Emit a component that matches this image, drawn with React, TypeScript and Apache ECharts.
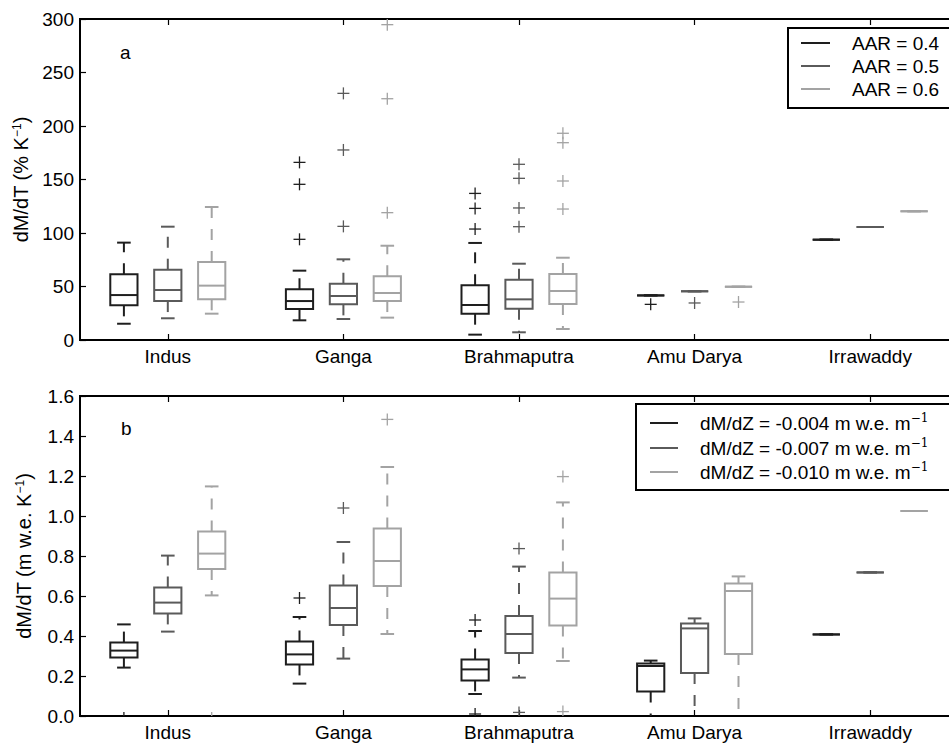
import React, { useEffect, useRef } from "react";
import * as echarts from "echarts";

const basins = ["Indus", "Ganga", "Brahmaputra", "Amu Darya", "Irrawaddy"];

// Panel a — [lower whisker, Q1, median, Q3, upper whisker] per basin (% K-1)
const aar04 = [
  [15.2, 32.4, 42.0, 61.4, 91.0],
  [18.4, 29.0, 36.4, 47.4, 64.8],
  [5.0, 24.6, 32.7, 51.1, 90.7],
  [41.7, 41.7, 41.7, 41.7, 41.7],
  [93.8, 93.8, 93.8, 93.8, 93.8],
];
const aar05 = [
  [20.3, 36.4, 46.7, 65.7, 105.9],
  [19.6, 33.3, 41.1, 52.6, 75.4],
  [7.2, 29.3, 38.0, 56.4, 71.3],
  [45.5, 45.5, 45.5, 45.5, 45.5],
  [105.6, 105.6, 105.6, 105.6, 105.6],
];
const aar06 = [
  [24.6, 38.0, 50.8, 72.9, 124.3],
  [20.9, 36.4, 43.9, 59.5, 88.1],
  [10.3, 33.6, 45.8, 61.7, 76.9],
  [49.8, 49.8, 49.8, 49.8, 49.8],
  [120.3, 120.3, 120.3, 120.3, 120.3],
];
const aar04Outliers = [[], [166, 145.5, 94.1], [137, 123, 103.7], [33.3], []];
const aar05Outliers = [[], [230.5, 177.6, 106.2], [164.2, 151.1, 123.4, 105.9], [34.6], []];
const aar06Outliers = [[], [294.7, 225.5, 119], [193.2, 184.4, 148.6, 122.4], [35.5], []];

// Panel b — [lower whisker, Q1, median, Q3, upper whisker] per basin (m w.e. K-1)
const dmdz004 = [
  [0.242, 0.292, 0.327, 0.367, 0.458],
  [0.162, 0.258, 0.308, 0.372, 0.495],
  [0.11, 0.178, 0.233, 0.283, 0.425],
  [-0.06, 0.122, 0.25, 0.262, 0.277],
  [0.408, 0.408, 0.408, 0.408, 0.408],
];
const dmdz007 = [
  [0.422, 0.513, 0.567, 0.643, 0.802],
  [0.287, 0.455, 0.54, 0.653, 0.87],
  [0.192, 0.315, 0.41, 0.5, 0.747],
  [-0.1, 0.215, 0.438, 0.462, 0.488],
  [0.718, 0.718, 0.718, 0.718, 0.718],
];
const dmdz010 = [
  [0.603, 0.735, 0.812, 0.922, 1.148],
  [0.41, 0.65, 0.775, 0.938, 1.245],
  [0.275, 0.452, 0.587, 0.717, 1.068],
  [-0.1, 0.31, 0.625, 0.662, 0.698],
  [1.025, 1.025, 1.025, 1.025, 1.025],
];
const dmdz004Outliers = [[-0.01], [0.59], [0.48, 0.01], [], []];
const dmdz007Outliers = [[], [1.04], [0.837, 0.018], [], []];
const dmdz010Outliers = [[-0.01], [1.483], [1.197, 0.022], [], []];

const topTicks = [0, 50, 100, 150, 200, 250, 300];
const bottomTicks = [0, 0.2, 0.4, 0.6, 0.8, 1.0, 1.2, 1.4, 1.6];

const legendA = ["AAR = 0.4", "AAR = 0.5", "AAR = 0.6"];
const legendB = [
  "dM/dZ = -0.004 m w.e. m",
  "dM/dZ = -0.007 m w.e. m",
  "dM/dZ = -0.010 m w.e. m",
];

const FONT = '"Liberation Sans", Arial, Helvetica, sans-serif';
const COLORS = ["#1e1e1e", "#5a5a5a", "#a3a3a3"];

function boxSeries(xIdx: number, yIdx: number, data: number[][], k: number, color: string) {
  return {
    type: "custom",
    xAxisIndex: xIdx,
    yAxisIndex: yIdx,
    clip: true,
    silent: true,
    data: data.map((d, i) => [i, ...d]),
    encode: { x: 0, y: [1, 2, 3, 4, 5] },
    renderItem: (_p: any, api: any) => {
      const cat = api.value(0);
      const band = api.size([1, 0])[0];
      const dx = (k * band) / 4;
      const hw = band * 0.0775;
      const cw = hw / 2;
      const lo = api.coord([cat, api.value(1)]);
      const q1 = api.coord([cat, api.value(2)]);
      const md = api.coord([cat, api.value(3)]);
      const q3 = api.coord([cat, api.value(4)]);
      const hi = api.coord([cat, api.value(5)]);
      const cx = lo[0] + dx;
      const st = { stroke: color, lineWidth: 2, fill: null };
      const dash = { stroke: color, lineWidth: 2, lineDash: [11, 11] };
      const children: any[] = [];
      if (hi[1] < q3[1]) {
        children.push({ type: "line", shape: { x1: cx, y1: q3[1], x2: cx, y2: hi[1] }, style: dash });
      }
      if (lo[1] > q1[1]) {
        children.push({ type: "line", shape: { x1: cx, y1: q1[1], x2: cx, y2: lo[1] }, style: dash });
      }
      children.push({ type: "line", shape: { x1: cx - cw, y1: hi[1], x2: cx + cw, y2: hi[1] }, style: st });
      children.push({ type: "line", shape: { x1: cx - cw, y1: lo[1], x2: cx + cw, y2: lo[1] }, style: st });
      children.push({
        type: "rect",
        shape: { x: cx - hw, y: q3[1], width: 2 * hw, height: q1[1] - q3[1] },
        style: { stroke: color, lineWidth: 2, fill: "none" },
      });
      children.push({ type: "line", shape: { x1: cx - hw, y1: md[1], x2: cx + hw, y2: md[1] }, style: st });
      return { type: "group", children };
    },
  };
}

function outlierSeries(xIdx: number, yIdx: number, data: number[][], k: number, color: string) {
  const flat: number[][] = [];
  data.forEach((vals, i) => vals.forEach((v) => flat.push([i, v])));
  return {
    type: "custom",
    xAxisIndex: xIdx,
    yAxisIndex: yIdx,
    clip: true,
    silent: true,
    data: flat,
    encode: { x: 0, y: 1 },
    renderItem: (_p: any, api: any) => {
      const band = api.size([1, 0])[0];
      const dx = (k * band) / 4;
      const pt = api.coord([api.value(0), api.value(1)]);
      const cx = pt[0] + dx;
      const s = 6;
      const st = { stroke: color, lineWidth: 1.3 };
      return {
        type: "group",
        children: [
          { type: "line", shape: { x1: cx - s, y1: pt[1], x2: cx + s, y2: pt[1] }, style: st },
          { type: "line", shape: { x1: cx, y1: pt[1] - s, x2: cx, y2: pt[1] + s }, style: st },
        ],
      };
    },
  };
}

function catAxis(gridIndex: number, position: string, showLabel: boolean) {
  return {
    type: "category",
    gridIndex,
    position,
    data: basins,
    boundaryGap: true,
    axisLine: { show: true, onZero: false, lineStyle: { color: "#000", width: 2 } },
    axisTick: { show: true, inside: true, alignWithLabel: true, length: 6, lineStyle: { color: "#000", width: 1.2 } },
    axisLabel: { show: showLabel, color: "#000", fontSize: 19, fontFamily: FONT, margin: 7 },
    splitLine: { show: false },
  };
}

function valAxis(gridIndex: number, ticks: number[], interval: number, name: string, nameGap: number, dec: number) {
  return {
    type: "value",
    gridIndex,
    min: ticks[0],
    max: ticks[ticks.length - 1],
    interval,
    axisLine: { show: true, lineStyle: { color: "#000", width: 2 } },
    axisTick: { show: true, inside: true, length: 6, lineStyle: { color: "#000", width: 1.2 } },
    splitLine: { show: false },
    axisLabel: {
      color: "#000",
      fontSize: 19,
      fontFamily: FONT,
      margin: 6,
      formatter: (v: number) => v.toFixed(dec),
    },
    name,
    nameLocation: "middle",
    nameRotate: 90,
    nameGap,
    nameTextStyle: {
      fontSize: 20,
      fontFamily: FONT,
      color: "#000",
      rich: {
        a: { fontSize: 20, fontFamily: FONT, color: "#000" },
        s: { fontSize: 12, fontFamily: FONT, color: "#000", verticalAlign: "top" },
      },
    },
  };
}

function legendGraphic(x: number, y: number, w: number, h: number, labels: string[], rowY: number[], lx1: number, lx2: number, tx: number) {
  const children: any[] = [
    { type: "rect", shape: { x, y, width: w, height: h }, style: { fill: "#fff", stroke: "#000", lineWidth: 2 } },
  ];
  labels.forEach((lab, i) => {
    children.push({
      type: "line",
      shape: { x1: lx1, y1: rowY[i], x2: lx2, y2: rowY[i] },
      style: { stroke: COLORS[i], lineWidth: 2 },
    });
    const hasSup = lab.endsWith(" m");
    children.push({
      type: "text",
      x: tx,
      y: rowY[i],
      style: {
        text: hasSup ? `{a|${lab}}{s|−1}` : `{a|${lab}}`,
        rich: {
          a: { fontSize: 19, fontFamily: FONT, fill: "#000", lineHeight: 22 },
          s: { fontSize: 12, fontFamily: "DejaVu Serif", fill: "#000", verticalAlign: "top", lineHeight: 12 },
        },
        verticalAlign: "middle",
        align: "left",
      },
    });
  });
  return { type: "group", children };
}

export default function App() {
  const ref = useRef<HTMLDivElement>(null);
  useEffect(() => {
    if (!ref.current) return;
    const chart = echarts.init(ref.current, null, { renderer: "svg" });
    chart.setOption({
      animation: false,
      backgroundColor: "#fff",
      textStyle: { fontFamily: FONT },
      grid: [
        { left: 80, top: 19, width: 878, height: 321, show: true, borderColor: "#000", borderWidth: 2, backgroundColor: "transparent" },
        { left: 80, top: 396, width: 878, height: 320, show: true, borderColor: "#000", borderWidth: 2, backgroundColor: "transparent" },
      ],
      xAxis: [catAxis(0, "bottom", true), catAxis(0, "top", false), catAxis(1, "bottom", true), catAxis(1, "top", false)],
      yAxis: [
        valAxis(0, topTicks, 50, "{a|dM/dT (% K}{s|−1}{a|)}", 46, 0),
        valAxis(1, bottomTicks, 0.2, "{a|dM/dT (m w.e. K}{s|−1}{a|)}", 46, 1),
      ],
      series: [
        boxSeries(0, 0, aar04, -1, COLORS[0]),
        boxSeries(0, 0, aar05, 0, COLORS[1]),
        boxSeries(0, 0, aar06, 1, COLORS[2]),
        outlierSeries(0, 0, aar04Outliers, -1, COLORS[0]),
        outlierSeries(0, 0, aar05Outliers, 0, COLORS[1]),
        outlierSeries(0, 0, aar06Outliers, 1, COLORS[2]),
        boxSeries(2, 1, dmdz004, -1, COLORS[0]),
        boxSeries(2, 1, dmdz007, 0, COLORS[1]),
        boxSeries(2, 1, dmdz010, 1, COLORS[2]),
        outlierSeries(2, 1, dmdz004Outliers, -1, COLORS[0]),
        outlierSeries(2, 1, dmdz007Outliers, 0, COLORS[1]),
        outlierSeries(2, 1, dmdz010Outliers, 1, COLORS[2]),
      ],
      graphic: [
        { type: "text", x: 120, y: 52, style: { text: "a", fontSize: 19, fontFamily: FONT, fill: "#000", verticalAlign: "middle" } },
        { type: "text", x: 121, y: 428, style: { text: "b", fontSize: 19, fontFamily: FONT, fill: "#000", verticalAlign: "middle" } },
        legendGraphic(788, 28, 164, 80, legendA, [43, 66, 89], 801, 830, 852),
        legendGraphic(636, 404, 316, 86, legendB, [423, 448, 472], 650, 678, 700),
      ],
    });
    return () => chart.dispose();
  }, []);
  return (
    <div style={{ position: "fixed", left: 0, top: 0, width: 949, height: 744, overflow: "hidden", background: "#fff" }}>
      <div ref={ref} style={{ width: 970, height: 744 }} />
    </div>
  );
}
